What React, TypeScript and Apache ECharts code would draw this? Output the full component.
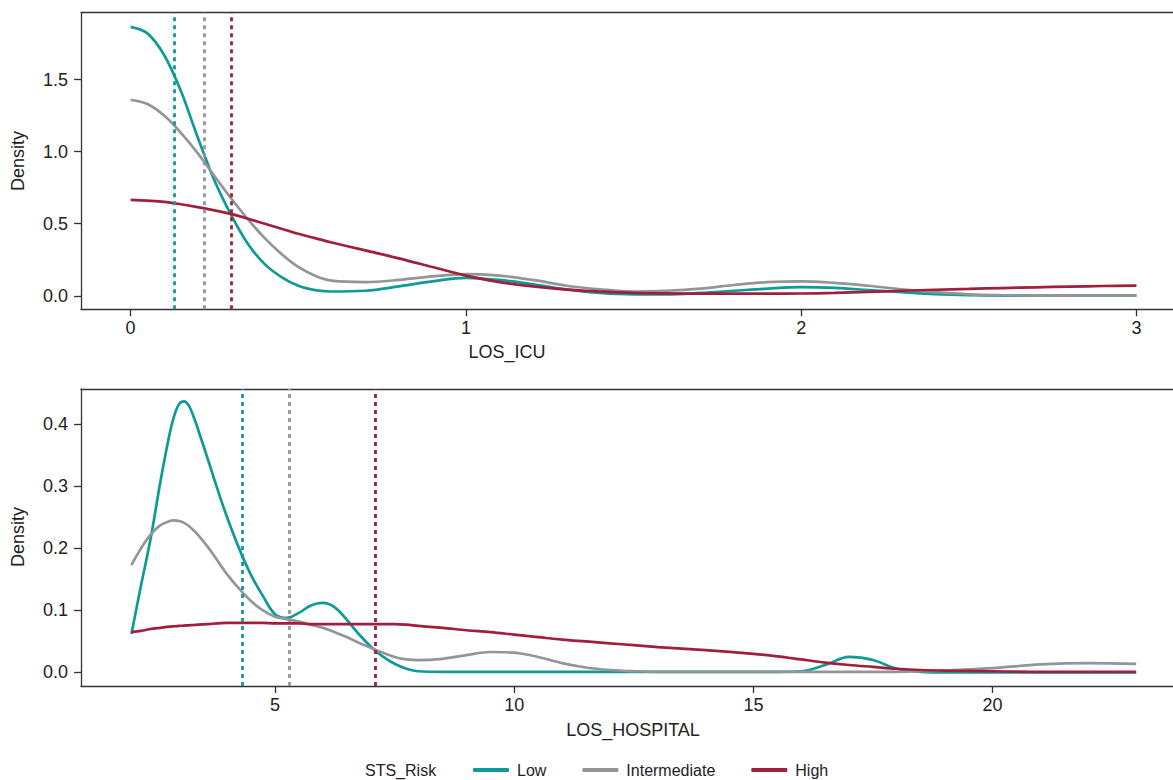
import React, { useEffect, useRef } from "react";
import * as echarts from "echarts";

// ---- Data ----
const groups = ["Low", "Intermediate", "High"];
const colors = ["#0e9a96", "#939598", "#a11f3c"];

// Top panel: LOS_ICU density
const icuX = [0, 0.05, 0.1, 0.15, 0.2, 0.25, 0.3, 0.35, 0.4, 0.45, 0.5, 0.55, 0.6, 0.7, 0.8, 0.9, 1.0, 1.1, 1.2, 1.3, 1.4, 1.5, 1.6, 1.7, 1.8, 1.9, 2.0, 2.1, 2.2, 2.3, 2.4, 2.5, 2.6, 2.7, 2.8, 2.9, 3.0];
const icuLow = [1.865, 1.82, 1.67, 1.42, 1.1, 0.8, 0.56, 0.36, 0.22, 0.13, 0.07, 0.04, 0.03, 0.035, 0.065, 0.1, 0.125, 0.11, 0.08, 0.045, 0.02, 0.01, 0.01, 0.02, 0.035, 0.05, 0.06, 0.055, 0.04, 0.025, 0.012, 0.005, 0.002, 0.001, 0.001, 0.001, 0.001];
const icuInter = [1.36, 1.33, 1.25, 1.13, 0.99, 0.83, 0.675, 0.53, 0.4, 0.29, 0.2, 0.14, 0.105, 0.095, 0.11, 0.135, 0.15, 0.14, 0.11, 0.07, 0.045, 0.03, 0.035, 0.05, 0.075, 0.095, 0.1, 0.09, 0.07, 0.045, 0.025, 0.01, 0.004, 0.002, 0.001, 0.001, 0.001];
const icuHigh = [0.665, 0.66, 0.652, 0.635, 0.615, 0.593, 0.568, 0.535, 0.5, 0.465, 0.43, 0.4, 0.37, 0.315, 0.26, 0.2, 0.14, 0.095, 0.065, 0.043, 0.03, 0.02, 0.017, 0.015, 0.015, 0.015, 0.016, 0.02, 0.027, 0.035, 0.042, 0.048, 0.054, 0.059, 0.064, 0.068, 0.071];
const icuMeans = [0.13, 0.219, 0.303];

// Bottom panel: LOS_HOSPITAL density
const hospX = [2.0, 2.2, 2.4, 2.6, 2.8, 2.9, 3.0, 3.1, 3.2, 3.3, 3.4, 3.6, 3.8, 4.0, 4.25, 4.5, 4.75, 5.0, 5.25, 5.5, 5.75, 6.0, 6.25, 6.5, 6.75, 7.0, 7.25, 7.5, 7.75, 8.0, 8.5, 9, 9.5, 10, 10.5, 11, 11.5, 12, 12.5, 13, 14, 15, 15.5, 16, 16.5, 17, 17.5, 18, 18.5, 19, 20, 21, 22, 23];
const hospLow = [0.062, 0.14, 0.215, 0.305, 0.385, 0.415, 0.433, 0.437, 0.43, 0.412, 0.39, 0.343, 0.295, 0.25, 0.2, 0.157, 0.123, 0.094, 0.088, 0.096, 0.108, 0.112, 0.105, 0.085, 0.062, 0.042, 0.026, 0.014, 0.006, 0.002, 0.001, 0.001, 0.001, 0.001, 0.001, 0.001, 0.001, 0.001, 0.001, 0.001, 0.001, 0.001, 0.001, 0.002, 0.012, 0.025, 0.02, 0.006, 0.001, 0, 0, 0, 0, 0];
const hospInter = [0.173, 0.2, 0.222, 0.237, 0.244, 0.245, 0.244, 0.241, 0.236, 0.229, 0.221, 0.202, 0.18, 0.158, 0.135, 0.115, 0.1, 0.09, 0.086, 0.082, 0.077, 0.072, 0.065, 0.057, 0.048, 0.04, 0.032, 0.025, 0.021, 0.02, 0.022, 0.028, 0.033, 0.032, 0.025, 0.015, 0.008, 0.004, 0.002, 0.001, 0.001, 0.001, 0.001, 0.001, 0.001, 0.001, 0.001, 0.001, 0.002, 0.003, 0.007, 0.013, 0.015, 0.014];
const hospHigh = [0.065, 0.067, 0.07, 0.072, 0.074, 0.0745, 0.075, 0.0755, 0.076, 0.0765, 0.077, 0.078, 0.079, 0.08, 0.08, 0.08, 0.08, 0.079, 0.079, 0.079, 0.078, 0.078, 0.078, 0.078, 0.078, 0.078, 0.078, 0.078, 0.077, 0.075, 0.072, 0.068, 0.065, 0.061, 0.057, 0.053, 0.05, 0.047, 0.044, 0.041, 0.036, 0.03, 0.026, 0.021, 0.016, 0.012, 0.009, 0.006, 0.004, 0.003, 0.002, 0.001, 0.001, 0.001];
const hospMeans = [4.32, 5.29, 7.1];

const icuTicks = [0, 1, 2, 3];
const icuYTicks = [0, 0.5, 1.0, 1.5];
const hospTicks = [5, 10, 15, 20];
const hospYTicks = [0, 0.1, 0.2, 0.3, 0.4];

const FONT = "'Liberation Sans', Arial, Helvetica, sans-serif";
const TXT = "#222222";
const AX = "#333333";

function zip(xs: number[], ys: number[]) {
  return xs.map((x, i) => [x, ys[i]]);
}

function xAxisCfg(gridIndex: number, min: number, max: number, ticks: number[]) {
  return {
    type: "value",
    gridIndex,
    min,
    max,
    position: "bottom",
    splitLine: { show: false },
    axisLine: { show: true, onZero: false, lineStyle: { color: AX, width: 1.3 } },
    axisTick: { show: true, length: 7, customValues: ticks, lineStyle: { color: AX, width: 1.3 } },
    axisLabel: { customValues: ticks, margin: 10, fontSize: 18, color: TXT, fontFamily: FONT },
  };
}

function topAxisCfg(gridIndex: number, min: number, max: number) {
  return {
    type: "value",
    gridIndex,
    min,
    max,
    position: "top",
    splitLine: { show: false },
    axisLine: { show: true, onZero: false, lineStyle: { color: AX, width: 1.3 } },
    axisTick: { show: false },
    axisLabel: { show: false },
  };
}

function yAxisCfg(gridIndex: number, min: number, max: number, ticks: number[]) {
  return {
    type: "value",
    gridIndex,
    min,
    max,
    splitLine: { show: false },
    axisLine: { show: true, onZero: false, lineStyle: { color: AX, width: 1.3 } },
    axisTick: { show: true, length: 7, customValues: ticks, lineStyle: { color: AX, width: 1.3 } },
    axisLabel: {
      customValues: ticks,
      margin: 13,
      fontSize: 18,
      color: TXT,
      fontFamily: FONT,
      formatter: (v: number) => v.toFixed(1),
    },
  };
}

export default function App() {
  const ref = useRef<HTMLDivElement>(null);
  useEffect(() => {
    if (!ref.current) return;
    const chart = echarts.init(ref.current, undefined, { renderer: "svg" });
    const icuSets = [icuLow, icuInter, icuHigh];
    const hospSets = [hospLow, hospInter, hospHigh];
    const series: any[] = [];
    groups.forEach((g, i) => {
      const dashLine = (v: number) => ({
        silent: true,
        symbol: ["none", "none"],
        label: { show: false },
        lineStyle: { color: colors[i], type: [4, 4], width: 2.8 },
        data: [{ xAxis: v }],
      });
      series.push({
        name: g,
        type: "line",
        xAxisIndex: 0,
        yAxisIndex: 0,
        data: zip(icuX, icuSets[i]),
        smooth: 0.35,
        symbol: "none",
        lineStyle: { color: colors[i], width: 2.7 },
        itemStyle: { color: colors[i] },
        markLine: dashLine(icuMeans[i]),
        z: 3,
      });
      series.push({
        name: g,
        type: "line",
        xAxisIndex: 2,
        yAxisIndex: 1,
        data: zip(hospX, hospSets[i]),
        smooth: 0.35,
        symbol: "none",
        lineStyle: { color: colors[i], width: 2.7 },
        itemStyle: { color: colors[i] },
        markLine: dashLine(hospMeans[i]),
        z: 3,
      });
    });

    chart.setOption({
      animation: false,
      backgroundColor: "#ffffff",
      grid: [
        { left: 81, top: 12.7, width: 1092, height: 296.6 },
        { left: 81, top: 389, width: 1092, height: 297 },
      ],
      xAxis: [
        xAxisCfg(0, -0.148, 3.109, icuTicks),
        topAxisCfg(0, -0.148, 3.109),
        xAxisCfg(1, 0.946, 23.77, hospTicks),
        topAxisCfg(1, 0.946, 23.77),
      ],
      yAxis: [yAxisCfg(0, -0.0935, 1.9635, icuYTicks), yAxisCfg(1, -0.0218, 0.4568, hospYTicks)],
      legend: {
        data: groups,
        left: 468,
        top: 757,
        icon: "roundRect",
        itemWidth: 36,
        itemHeight: 4,
        itemGap: 36,
        textStyle: { fontSize: 16, color: TXT, fontFamily: FONT, padding: [0, 0, 0, 3] },
      },
      graphic: [
        { type: "text", left: 365, top: 762, style: { text: "STS_Risk", fontSize: 16, fill: TXT, fontFamily: FONT } },
        { type: "text", x: 507, y: 352, style: { text: "LOS_ICU", fontSize: 18, fill: TXT, fontFamily: FONT, align: "center", verticalAlign: "middle" } },
        { type: "text", x: 633, y: 730, style: { text: "LOS_HOSPITAL", fontSize: 18, fill: TXT, fontFamily: FONT, align: "center", verticalAlign: "middle" } },
        { type: "text", x: 18, y: 161, rotation: Math.PI / 2, style: { text: "Density", fontSize: 18, fill: TXT, fontFamily: FONT, align: "center", verticalAlign: "middle" } },
        { type: "text", x: 18, y: 537, rotation: Math.PI / 2, style: { text: "Density", fontSize: 18, fill: TXT, fontFamily: FONT, align: "center", verticalAlign: "middle" } },
      ],
      series,
    });
    return () => chart.dispose();
  }, []);
  return <div ref={ref} style={{ width: 1173, height: 780, position: "absolute", left: 0, top: 0 }} />;
}
